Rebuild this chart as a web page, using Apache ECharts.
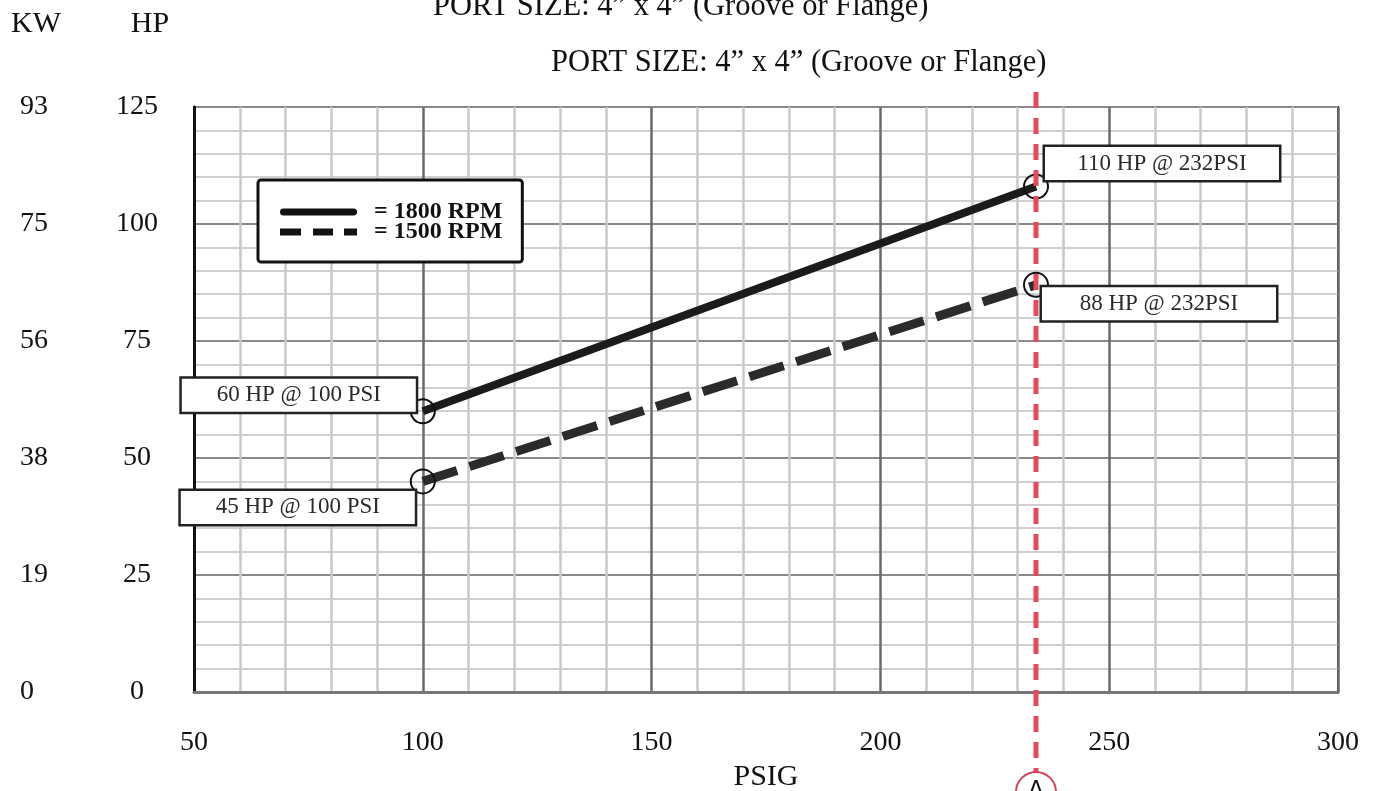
<!DOCTYPE html>
<html>
<head>
<meta charset="utf-8">
<script src="https://cdn.jsdelivr.net/npm/echarts@6/dist/echarts.min.js"></script>
<style>
html,body{margin:0;padding:0;background:#fff;}
#chart{width:1380px;height:791px;}
</style>
</head>
<body>
<div id="chart"></div>
<script>
// ---- data ----
const psiPoints = [100, 234];
const hp1800 = [60, 108];
const hp1500 = [45, 87];
const notes1800 = ['60 HP @ 100 PSI', '110 HP @ 232PSI'];
const notes1500 = ['45 HP @ 100 PSI', '88 HP @ 232PSI'];
const kwTickLabels = ['0', '19', '38', '56', '75', '93'];
const redLinePsi = 234;
const seriesNames = ['1800 RPM', '1500 RPM'];
const titleText = 'PORT SIZE: 4\u201D x 4\u201D (Groove or Flange)';

// ---- styles (not data) ----
const FONT = '"Liberation Serif", "DejaVu Serif", serif';
const offsets1800 = [[-124, -16], [126, -23]];
const offsets1500 = [[-125, 26], [123, 19]];

function noteLabel(text, off) {
  return {
    show: true, position: 'inside', offset: off, formatter: text,
    backgroundColor: '#fff', borderColor: '#222', borderWidth: 2.5,
    width: 234, height: 33, lineHeight: 33, align: 'center', verticalAlign: 'middle',
    fontSize: 23, fontFamily: FONT, color: '#2a2a2a'
  };
}
function buildData(ys, notes, offs) {
  return psiPoints.map((x, i) => ({ value: [x, ys[i]], label: noteLabel(notes[i], offs[i]) }));
}

const chart = echarts.init(document.getElementById('chart'), null, { renderer: 'canvas' });
const option = {
  animation: false,
  backgroundColor: '#fff',
  title: [
    { text: titleText, left: 546, top: 42, textStyle: { fontFamily: FONT, fontSize: 30.5, fontWeight: 'normal', color: '#111' } },
    { text: titleText, left: 428, top: -14, textStyle: { fontFamily: FONT, fontSize: 30.5, fontWeight: 'normal', color: '#111' } }
  ],
  grid: { left: 194, right: 42, top: 107, bottom: 99, outerBoundsMode: 'none', containLabel: false,
    show: true, borderColor: '#333', borderWidth: 2, backgroundColor: '#fff' },
  legend: {
    left: 258, top: 180, orient: 'vertical',
    backgroundColor: '#fff', borderColor: '#111', borderWidth: 3, borderRadius: 3,
    padding: [20, 20, 18, 22], itemGap: -4, itemWidth: 77, itemHeight: 7,
    formatter: '= {name}',
    textStyle: { fontFamily: FONT, fontSize: 24, fontWeight: 'bold', color: '#111', lineHeight: 19, padding: [0, 0, 0, 12] },
    data: [
      { name: seriesNames[0], icon: 'path://M3,0H74A3.5,3.5 0 0 1 74,7H3A3.5,3.5 0 0 1 3,0Z', itemStyle: { color: '#111', borderWidth: 0 } },
      { name: seriesNames[1], icon: 'path://M0,0H21V7H0Z M33,0H53V7H33Z M64,0H77V7H64Z', itemStyle: { color: '#111', borderWidth: 0 } }
    ]
  },
  xAxis: {
    type: 'value', min: 50, max: 300, interval: 50,
    name: 'PSIG', nameLocation: 'middle', nameGap: 68,
    nameTextStyle: { fontFamily: FONT, fontSize: 30, color: '#111' },
    axisLine: { show: true, lineStyle: { color: '#777', width: 3 } },
    axisTick: { show: false },
    axisLabel: { margin: 37, fontFamily: FONT, fontSize: 28, color: '#111' },
    splitLine: { show: true, lineStyle: { color: '#6a6a6a', width: 2.5 } },
    minorTick: { show: false, splitNumber: 5 },
    minorSplitLine: { show: true, lineStyle: { color: '#c9c9c9', width: 2.5 } }
  },
  yAxis: [
    {
      type: 'value', min: 0, max: 125, interval: 25, position: 'left',
      name: 'HP', nameLocation: 'end', nameGap: 68,
      nameTextStyle: { fontFamily: FONT, fontSize: 30, color: '#111', align: 'center', padding: [0, 88, 0, 0] },
      axisLine: { show: true, lineStyle: { color: '#111', width: 3 } },
      axisTick: { show: false },
      axisLabel: { margin: 57, align: 'center', fontFamily: FONT, fontSize: 28, color: '#111' },
      splitLine: { show: true, lineStyle: { color: '#8a8a8a', width: 2 } },
      minorTick: { show: false, splitNumber: 5 },
      minorSplitLine: { show: true, lineStyle: { color: '#d0d0d0', width: 2 } }
    },
    {
      type: 'value', min: 0, max: 125, interval: 25, position: 'left', offset: 0,
      name: 'KW', nameLocation: 'end', nameGap: 68,
      nameTextStyle: { fontFamily: FONT, fontSize: 30, color: '#111', align: 'center', padding: [0, 316, 0, 0] },
      axisLine: { show: false }, axisTick: { show: false }, splitLine: { show: false },
      axisLabel: { margin: 174, align: 'left', fontFamily: FONT, fontSize: 28, color: '#111',
        formatter: v => kwTickLabels[Math.round(v / 25)] }
    }
  ],
  series: [
    {
      name: seriesNames[0], type: 'line', yAxisIndex: 0,
      data: buildData(hp1800, notes1800, offsets1800),
      symbol: 'circle', symbolSize: 24, z: 5,
      lineStyle: { color: '#1b1b1b', width: 8 },
      itemStyle: { color: 'rgba(0,0,0,0)', borderColor: '#111', borderWidth: 2 },
      emphasis: { disabled: true }
    },
    {
      name: seriesNames[1], type: 'line', yAxisIndex: 0,
      data: buildData(hp1500, notes1500, offsets1500),
      symbol: 'circle', symbolSize: 24, z: 5,
      lineStyle: { color: '#2b2b2b', width: 9, type: [36, 13] },
      itemStyle: { color: 'rgba(0,0,0,0)', borderColor: '#111', borderWidth: 2 },
      emphasis: { disabled: true }
    }
  ]
};
chart.setOption(option);

// red reference line at the rated pressure, placed through the x-axis scale
const rx = chart.convertToPixel({ xAxisIndex: 0 }, redLinePsi);
const circleCY = 792, circleR = 20;
chart.setOption({
  graphic: [
    { type: 'line', z: 10, shape: { x1: rx, y1: 92, x2: rx, y2: circleCY - circleR }, style: { stroke: '#e8485c', lineWidth: 5, lineDash: [16, 10] } },
    { type: 'circle', z: 10, shape: { cx: rx, cy: circleCY, r: circleR }, style: { fill: '#fff', stroke: '#d8405a', lineWidth: 2 } },
    { type: 'text', z: 11, x: rx, y: circleCY, style: { text: 'A', fontFamily: '"DejaVu Sans", sans-serif', fontSize: 24, fill: '#111', align: 'center', verticalAlign: 'middle' } }
  ]
});
</script>
</body>
</html>
